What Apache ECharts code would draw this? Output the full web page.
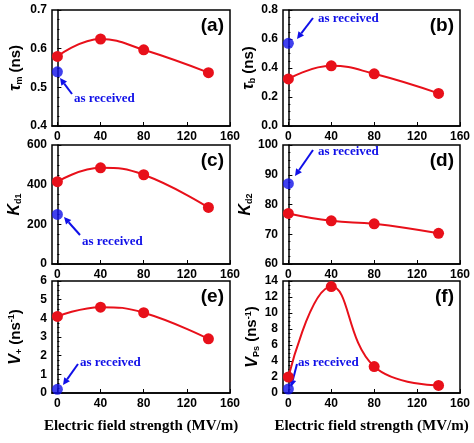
<!DOCTYPE html>
<html><head><meta charset="utf-8">
<script src="https://cdn.jsdelivr.net/npm/echarts@6/dist/echarts.min.js"></script>
<style>html,body{margin:0;background:#fff}#c{width:474px;height:443px}</style>
</head><body><div id="c"></div>
<script>
const fields = [0, 40, 80, 140]
const xTicks = [0, 40, 80, 120, 160]
const tauM = [0.58, 0.625, 0.597, 0.538]
const tauB = [0.325, 0.415, 0.36, 0.225]
const kd1 = [415, 485, 450, 285]
const kd2 = [77, 74.5, 73.5, 70.3]
const vPlus = [4.1, 4.6, 4.3, 2.9]
const vPs = [2, 13.3, 3.3, 0.95]
const received = [0.54, 0.57, 250, 87, 0.2, 0.5]

const panels = [
  { tag: '(a)', data: tauM, min: 0.4, max: 0.7, step: 0.1, dec: 1, name: '{i|τ}{s|m}{n| (ns)}', grid: [52, 10, 178, 116] },
  { tag: '(b)', data: tauB, min: 0, max: 0.8, step: 0.2, dec: 1, name: '{i|τ}{s|b}{n| (ns)}', grid: [283, 10, 177, 116] },
  { tag: '(c)', data: kd1, min: 0, max: 600, step: 200, dec: 0, name: '{i|K}{s|d1}', grid: [52, 145, 178, 119] },
  { tag: '(d)', data: kd2, min: 60, max: 100, step: 10, dec: 0, name: '{i|K}{s|d2}', grid: [283, 145, 177, 119] },
  { tag: '(e)', data: vPlus, min: 0, max: 6, step: 1, dec: 0, name: '{i|V}{s|+}{n| (ns}{p|-1}{n|)}', grid: [52, 281, 178, 112] },
  { tag: '(f)', data: vPs, min: 0, max: 14, step: 2, dec: 0, name: '{i|V}{s|Ps}{n| (ns}{p|-1}{n|)}', grid: [283, 281, 177, 112] },
]
// text position and arrow (from -> to) for the "as received" notes
const notes = [
  { t: [74, 92], a: [72, 94, 60, 78] },
  { t: [318, 12], a: [313, 18, 297, 39] },
  { t: [82, 235], a: [80, 235, 64, 217] },
  { t: [318, 145], a: [313, 150, 295, 176] },
  { t: [80, 356], a: [78, 364, 63, 385] },
  { t: [298, 356], a: [297, 364, 291, 387] },
]

const font = 'Arial'
const grids = [], xAxes = [], yAxes = [], series = [], graphic = []
panels.forEach((p, i) => {
  const [l, t, w, h] = p.grid
  grids.push({ left: l, top: t, width: w, height: h, show: true, borderColor: '#000', borderWidth: 1.5 })
  xAxes.push({
    type: 'value', gridIndex: i, min: -5, max: 160,
    axisLine: { lineStyle: { color: '#000', width: 1.5 } },
    axisTick: { inside: true, customValues: xTicks, length: 4, lineStyle: { color: '#000' } },
    minorTick: { show: false },
    axisLabel: { customValues: xTicks, color: '#000', fontWeight: 'bold', fontFamily: font, fontSize: 12, margin: 5 },
    splitLine: { show: false },
    name: i >= 4 ? 'Electric field strength (MV/m)' : '', nameLocation: 'middle', nameGap: 26,
    nameTextStyle: { fontFamily: 'Liberation Serif', fontWeight: 'bold', fontSize: 15, color: '#000' },
  })
  yAxes.push({
    type: 'value', gridIndex: i, min: p.min, max: p.max, interval: p.step,
    axisLine: { lineStyle: { color: '#000', width: 1.5 } },
    axisTick: { inside: true, length: 4, lineStyle: { color: '#000' } },
    minorTick: { show: true, splitNumber: 4, length: 2, lineStyle: { color: '#000' } },
    axisLabel: { color: '#000', fontWeight: 'bold', fontFamily: font, fontSize: 12, margin: 5, formatter: v => v.toFixed(p.dec) },
    splitLine: { show: false },
    name: p.name, nameLocation: 'middle', nameGap: i % 2 ? 22 : 28, nameRotate: 90,
    nameTextStyle: {
      rich: {
        i: { fontFamily: font, fontStyle: 'italic', fontWeight: 'bold', fontSize: 16, color: '#000' },
        s: { fontFamily: font, fontWeight: 'bold', fontSize: 9, color: '#000', verticalAlign: 'bottom', padding: [8, 0, 0, 0] },
        p: { fontFamily: font, fontWeight: 'bold', fontSize: 9, color: '#000', padding: [0, 0, 8, 0] },
        n: { fontFamily: font, fontWeight: 'bold', fontSize: 15, color: '#000' },
      },
    },
  })
  series.push({
    type: 'line', xAxisIndex: i, yAxisIndex: i, smooth: 0.45,
    data: fields.map((x, k) => [x, p.data[k]]),
    symbol: 'circle', symbolSize: 11,
    lineStyle: { color: '#e8101a', width: 2 }, itemStyle: { color: '#e8101a' },
  })
  series.push({
    type: 'scatter', xAxisIndex: i, yAxisIndex: i, data: [[0, received[i]]],
    symbolSize: 11, itemStyle: { color: '#1010e8' }, z: 5,
  })
  graphic.push({ type: 'text', right: 474 - l - w + 6, top: t + 6,
    style: { text: p.tag, font: 'bold 19px Arial', fill: '#000' } })
  const n = notes[i]
  graphic.push({ type: 'text', x: n.t[0], y: n.t[1],
    style: { text: 'as received', font: 'bold 13px "Liberation Serif"', fill: '#1010e8' } })
  const [x1, y1, x2, y2] = n.a
  const ang = Math.atan2(y2 - y1, x2 - x1), hl = 7, hw = 3.5
  const bx = x2 - hl * Math.cos(ang), by = y2 - hl * Math.sin(ang)
  graphic.push({ type: 'line', shape: { x1, y1, x2: bx, y2: by }, style: { stroke: '#1010e8', lineWidth: 2 } })
  graphic.push({ type: 'polygon', shape: { points: [[x2, y2],
    [bx + hw * Math.sin(ang), by - hw * Math.cos(ang)], [bx - hw * Math.sin(ang), by + hw * Math.cos(ang)]] },
    style: { fill: '#1010e8' } })
})

const chart = echarts.init(document.getElementById('c'))
chart.setOption({ animation: false, grid: grids, xAxis: xAxes, yAxis: yAxes, series, graphic })
</script></body></html>
